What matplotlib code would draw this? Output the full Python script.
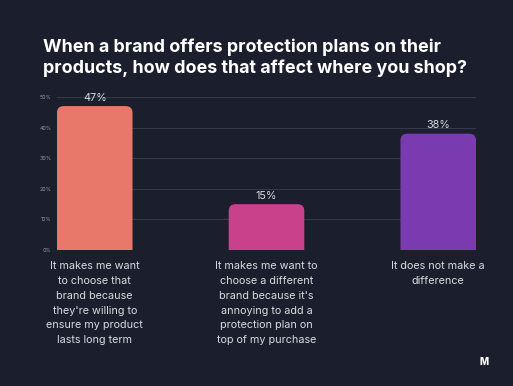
import matplotlib
matplotlib.use("Agg")
import matplotlib.pyplot as plt
from matplotlib.patches import FancyBboxPatch

BG = "#1b1f2d"
GRID = "#333947"

categories = [
    "It makes me want\nto choose that\nbrand because\nthey're willing to\nensure my product\nlasts long term",
    "It makes me want to\nchoose a different\nbrand because it's\nannoying to add a\nprotection plan on\ntop of my purchase",
    "It does not make a\ndifference",
]
values = [47, 15, 38]
colors = ["#e8796a", "#c9418a", "#7a3ab0"]
yticks = [0, 10, 20, 30, 40, 50]

plt.rcParams["font.family"] = ["Inter", "DejaVu Sans"]

fig = plt.figure(figsize=(5.13, 3.86), dpi=100)
fig.patch.set_facecolor(BG)
ax = fig.add_axes([0.111, 0.352, 0.817, 0.397])
ax.set_facecolor(BG)

width = 0.44
x = list(range(len(values)))
bars = ax.bar(x, values, width=width, color=colors, zorder=3)

# rounded top corners: box starts below the axis so the bottom rounding is clipped away
for b, c, v in zip(bars, colors, values):
    b.set_visible(False)
    r = FancyBboxPatch((b.get_x(), -5), b.get_width(), v + 5,
                       boxstyle="round,pad=0,rounding_size=0.04",
                       mutation_aspect=55, facecolor=c, edgecolor="none", zorder=3)
    ax.add_patch(r)
    r.set_clip_on(True)

for xi, v in zip(x, values):
    ax.text(xi, v + 1.1, f"{v}%", ha="center", va="bottom", color="#d9d9de", fontsize=7.8)

ax.set_xlim(-width / 2, len(values) - 1 + width / 2)
ax.set_ylim(0, 50)
ax.set_yticks(yticks)
ax.set_yticklabels([f"{t}%" for t in yticks], fontsize=3.8, color="#9a9ea8")
ax.tick_params(axis="y", length=0, pad=4)
ax.set_xticks(x)
ax.set_xticklabels(categories, fontsize=7.8, color="#d9d9de", linespacing=1.6, va="top")
ax.tick_params(axis="x", length=0, pad=8)
ax.grid(axis="y", color=GRID, linewidth=0.8, zorder=0)
for s in ax.spines.values():
    s.set_visible(False)

fig.text(0.084, 0.9, "When a brand offers protection plans on their\nproducts, how does that affect where you shop?",
         color="white", fontsize=12.9, fontweight="bold", ha="left", va="top", linespacing=1.22)

fig.text(0.943, 0.062, "M", color="white", fontsize=7, fontweight="heavy", ha="center", va="center")

fig.savefig("out.png", dpi=100, facecolor=BG)
